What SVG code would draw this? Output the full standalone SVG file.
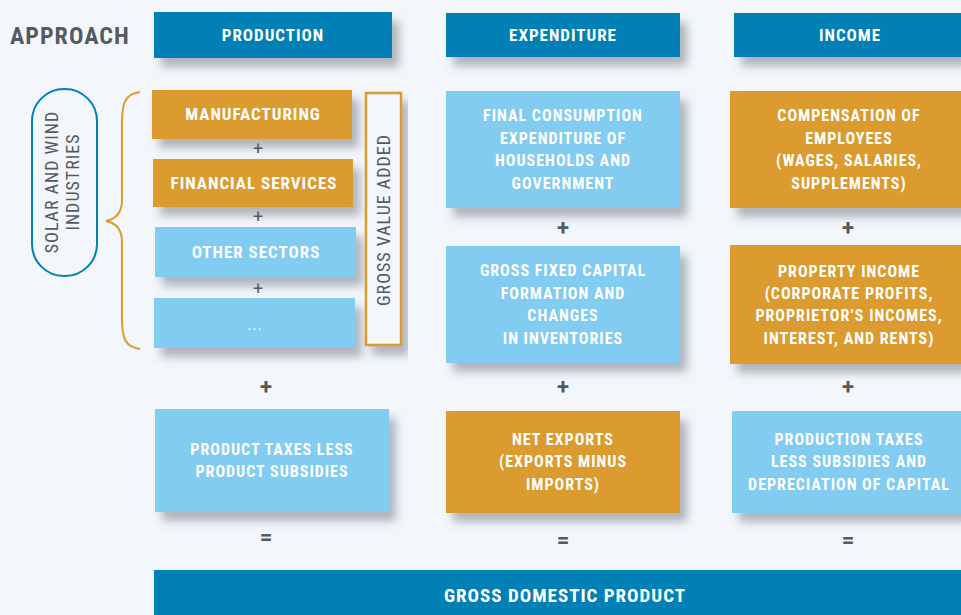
<svg xmlns="http://www.w3.org/2000/svg" width="961" height="615" viewBox="0 0 961 615">
<defs>
<filter id="sh" x="-10%" y="-10%" width="130%" height="150%">
<feDropShadow dx="7" dy="9" stdDeviation="5" flood-color="#6a6f78" flood-opacity="0.5"/>
</filter>
<style>
.hd{fill:#0080b4}
.or{fill:#db9b2f}
.lb{fill:#82cbf1}
.t{font-family:"Roboto Condensed","Liberation Sans Narrow",Roboto,"Liberation Sans",sans-serif;font-weight:bold;font-size:16px;fill:#fff;text-anchor:middle;letter-spacing:1px}
.t17{font-size:17px}
.op{font-family:Roboto,"Liberation Sans",sans-serif;fill:#555a60;text-anchor:middle}
.opb{font-family:Roboto,"Liberation Sans",sans-serif;font-weight:bold;font-size:22px;fill:#555a60;text-anchor:middle}
.v{font-family:"Roboto Condensed","Liberation Sans Narrow",Roboto,"Liberation Sans",sans-serif;font-size:18px;fill:#555a60;text-anchor:middle;letter-spacing:1px}
</style>
</defs>
<rect width="961" height="615" fill="#f3f7fc"/>
<text x="10" y="44" font-family="'Roboto Condensed','Liberation Sans Narrow',Roboto,sans-serif" font-weight="bold" font-size="24" fill="#555a60" letter-spacing="1">APPROACH</text>

<g id="production"><rect class="hd" x="154" y="12" width="238" height="46" filter="url(#sh)"/><text class="t t17" x="273" y="41">PRODUCTION</text></g>
<g id="expenditure"><rect class="hd" x="446" y="13" width="234" height="44" filter="url(#sh)"/><text class="t t17" x="563" y="41">EXPENDITURE</text></g>
<g id="income"><rect class="hd" x="734" y="13" width="230" height="44" filter="url(#sh)"/><text class="t t17" x="850" y="41">INCOME</text></g>

<g id="solar"><rect x="32" y="89" width="65" height="187" rx="32" fill="none" stroke="#0080b4" stroke-width="2"/>
<text class="v" transform="translate(64,182) rotate(-90)"><tspan x="0" y="-6">SOLAR AND WIND</tspan><tspan x="0" y="15">INDUSTRIES</tspan></text></g>

<g id="bracket"><path d="M140,92 C124,94 122,104 122,125 L122,200 C122,212 116,219 106,221 C116,223 122,230 122,242 L122,318 C122,340 126,347 140,349" fill="none" stroke="#db9b2f" stroke-width="2"/></g>

<g id="manufacturing"><rect class="or" x="152" y="90" width="200" height="49" filter="url(#sh)"/><text class="t t17" x="253" y="120">MANUFACTURING</text></g>
<g id="financial"><rect class="or" x="153" y="159" width="200" height="48" filter="url(#sh)"/><text class="t t17" x="254" y="189">FINANCIAL SERVICES</text></g>
<g id="other"><rect class="lb" x="155" y="227" width="201" height="50" filter="url(#sh)"/><text class="t t17" x="256" y="258">OTHER SECTORS</text></g>
<g id="dots"><rect class="lb" x="154" y="298" width="201" height="50" filter="url(#sh)"/><text class="t" x="255" y="330" style="font-weight:normal">...</text></g>

<g id="gva"><rect x="366" y="93" width="35" height="252" fill="#f3f7fc" stroke="#db9b2f" stroke-width="2.5" filter="url(#sh)"/>
<text class="v" transform="translate(390,220) rotate(-90)" x="0" y="0">GROSS VALUE ADDED</text></g>

<g id="taxes"><rect class="lb" x="155" y="409" width="234" height="103" filter="url(#sh)"/><text class="t"><tspan x="272" y="455">PRODUCT TAXES LESS</tspan><tspan x="272" y="477">PRODUCT SUBSIDIES</tspan></text></g>

<g id="consumption"><rect class="lb" x="446" y="91" width="234" height="117" filter="url(#sh)"/><text class="t"><tspan x="563" y="121">FINAL CONSUMPTION</tspan><tspan x="563" y="144">EXPENDITURE OF</tspan><tspan x="563" y="166">HOUSEHOLDS AND</tspan><tspan x="563" y="189">GOVERNMENT</tspan></text></g>
<g id="capital"><rect class="lb" x="446" y="246" width="234" height="117" filter="url(#sh)"/><text class="t"><tspan x="563" y="276">GROSS FIXED CAPITAL</tspan><tspan x="563" y="299">FORMATION AND</tspan><tspan x="563" y="321">CHANGES</tspan><tspan x="563" y="344">IN INVENTORIES</tspan></text></g>
<g id="netexports"><rect class="or" x="446" y="411" width="234" height="102" filter="url(#sh)"/><text class="t"><tspan x="563" y="445">NET EXPORTS</tspan><tspan x="563" y="467">(EXPORTS MINUS</tspan><tspan x="563" y="490">IMPORTS)</tspan></text></g>

<g id="compensation"><rect class="or" x="730" y="91" width="234" height="117" filter="url(#sh)"/><text class="t"><tspan x="849" y="121">COMPENSATION OF</tspan><tspan x="849" y="144">EMPLOYEES</tspan><tspan x="849" y="166">(WAGES, SALARIES,</tspan><tspan x="849" y="189">SUPPLEMENTS)</tspan></text></g>
<g id="property"><rect class="or" x="730" y="245" width="234" height="119" filter="url(#sh)"/><text class="t"><tspan x="849" y="277">PROPERTY INCOME</tspan><tspan x="849" y="299">(CORPORATE PROFITS,</tspan><tspan x="849" y="321">PROPRIETOR’S INCOMES,</tspan><tspan x="849" y="344">INTEREST, AND RENTS)</tspan></text></g>
<g id="prodtaxes"><rect class="lb" x="732" y="411" width="232" height="102" filter="url(#sh)"/><text class="t"><tspan x="849" y="445">PRODUCTION TAXES</tspan><tspan x="849" y="467">LESS SUBSIDIES AND</tspan><tspan x="849" y="490">DEPRECIATION OF CAPITAL</tspan></text></g>

<g id="gdp"><rect class="hd" x="154" y="570" width="810" height="46"/><text class="t" x="565" y="602" style="font-size:19px">GROSS DOMESTIC PRODUCT</text></g>

<g id="operators">
<text class="op" x="258" y="155" font-size="18">+</text>
<text class="op" x="258" y="223" font-size="18">+</text>
<text class="op" x="258" y="295" font-size="18">+</text>
<text class="opb" x="266" y="394">+</text>
<text class="opb" x="266" y="544">=</text>
<text class="opb" x="563" y="235">+</text>
<text class="opb" x="563" y="394">+</text>
<text class="opb" x="563" y="547">=</text>
<text class="opb" x="848" y="235">+</text>
<text class="opb" x="848" y="394">+</text>
<text class="opb" x="848" y="547">=</text>
</g>
</svg>
